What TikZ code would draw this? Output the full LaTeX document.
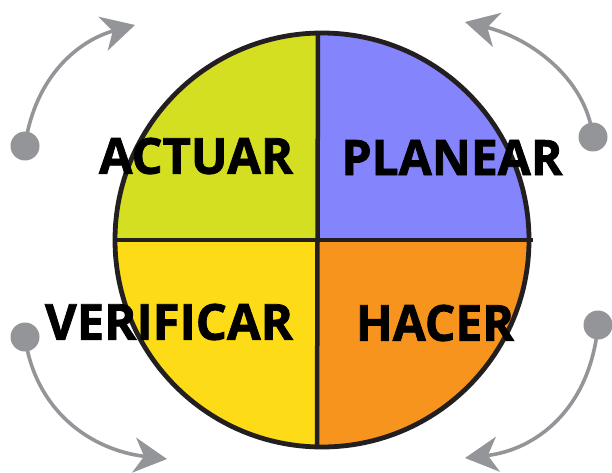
\documentclass[tikz,border=0pt]{standalone}
\usepackage{fontspec}
\setmainfont{Open Sans}[BoldFeatures={FakeBold=1.6}]
\usetikzlibrary{arrows.meta}
\definecolor{cTL}{HTML}{D5DF22}
\definecolor{cTR}{HTML}{8484FC}
\definecolor{cBL}{HTML}{FDDC17}
\definecolor{cBR}{HTML}{F7941E}
\definecolor{cBorder}{HTML}{231F20}
\definecolor{cGrey}{HTML}{939598}
\tikzset{
  garrow/.style={draw=cGrey, line width=3.6pt, -{Stealth[length=33pt,width=35pt,inset=10pt]}},
  gdot/.style={circle, fill=cGrey, minimum size=29pt, inner sep=0pt},
  lbl/.style={inner sep=0pt, anchor=center},
  rim/.style={draw=cBorder, line width=4.8pt},
}
\newcommand{\fitlabel}[3]{\resizebox{#1pt}{#2pt}{\bfseries #3}}
\begin{document}
\begin{tikzpicture}[x=1pt,y=-1pt]
\useasboundingbox (0,0) rectangle (612,473);
% quadrants
\begin{scope}
  \clip (322,240) circle (207);
  \fill[cTL] (100,20) rectangle (317.5,240);
  \fill[cTR] (317.5,20) rectangle (540,240);
  \fill[cBL] (100,240) rectangle (317.5,460);
  \fill[cBR] (317.5,240) rectangle (540,460);
\end{scope}
\node[circle, rim, minimum size=414pt, inner sep=0pt] (wheel) at (322,240) {};
\coordinate (hl) at (115,240);
\coordinate (hr) at (533,240);
\coordinate (vt) at (318,33);
\coordinate (vb) at (317,447);
\draw[draw=cBorder, line width=4.5pt] (hl) -- (hr);
\draw[draw=cBorder, line width=4.5pt] (vt) -- (vb);
% labels
\node[lbl] (actuar) at (196,156) {\fitlabel{194}{36}{ACTUAR}};
\node[lbl] (planear) at (452,157.5) {\fitlabel{221}{35}{PLANEAR}};
\node[lbl] (verificar) at (169,322) {\fitlabel{248}{36}{VERIFICAR}};
\node[lbl] (hacer) at (435,323) {\fitlabel{158}{36}{HACER}};
% arrows
\node[gdot] (dTL) at (25,146) {};
\node[gdot] (dTR) at (593,137) {};
\node[gdot] (dBL) at (25,337) {};
\node[gdot] (dBR) at (598,325) {};
\coordinate (tTL) at (135,25);
\coordinate (tTR) at (465,22);
\coordinate (tBL) at (167,459);
\coordinate (tBR) at (465,458);
\draw[garrow] (dTL.center) .. controls (35,75) and (80,40) .. (tTL);
\draw[garrow] (dTR.center) .. controls (586,78) and (530,38) .. (tTR);
\draw[garrow] (dBL.center) .. controls (35,410) and (90,450) .. (tBL);
\draw[garrow] (dBR.center) .. controls (590,410) and (535,450) .. (tBR);
\end{tikzpicture}
\end{document}
